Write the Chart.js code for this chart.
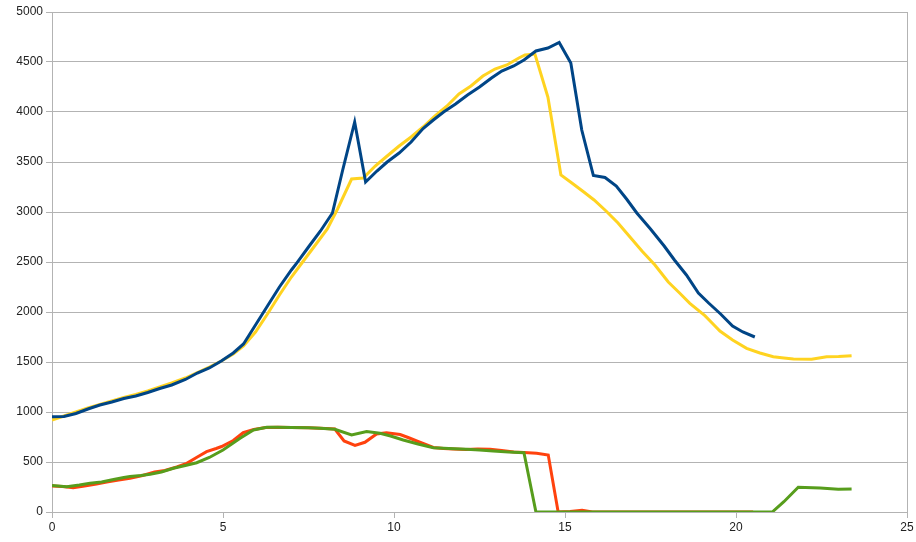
<!DOCTYPE html>
<html>
<head>
<meta charset="utf-8">
<script src="https://cdn.jsdelivr.net/npm/chart.js@4/dist/chart.umd.min.js"></script>
<style>
  html, body { margin: 0; padding: 0; background: #fff; }
  #wrap { width: 916px; height: 542px; position: relative; }
</style>
</head>
<body>
<div id="wrap"><canvas id="chart"></canvas></div>
<script>
// LibreOffice default palette
const COLORS = {
    blue: '#004586',
    orange: '#ff420e',
    yellow: '#ffd320',
    green: '#579d1c',
    grid: '#b3b3b3',
    text: '#222222',
};

// Axis ranges / ticks
const xTicks = [0, 5, 10, 15, 20, 25];
const yTicks = [0, 500, 1000, 1500, 2000, 2500, 3000, 3500, 4000, 4500, 5000];

// Series 1 (blue)
const blueX = [0, 0.35, 0.7, 1.05, 1.4, 1.75, 2.1, 2.45, 2.8, 3.15, 3.5, 3.9, 4.25, 4.6, 4.95, 5.3, 5.6,
    5.95, 6.3, 6.65, 7.0, 7.15, 7.5, 7.85, 8.2, 8.5, 8.85, 9.17, 9.5, 9.8, 10.15, 10.5, 10.85, 11.15, 11.45,
    11.8, 12.15, 12.5, 12.85, 13.15, 13.5, 13.8, 14.15, 14.5, 14.83, 15.17, 15.49, 15.83, 16.17, 16.5, 16.8,
    17.1, 17.5, 17.9, 18.2, 18.55, 18.9, 19.2, 19.55, 19.9, 20.2, 20.55];
const blueY = [953, 955, 985, 1030, 1070, 1100, 1135, 1160, 1195, 1235, 1270, 1325, 1390, 1440, 1510, 1590, 1680,
    1870, 2060, 2250, 2420, 2487, 2650, 2810, 2990, 3420, 3900, 3300, 3410, 3500, 3590, 3700, 3835, 3920, 4000,
    4080, 4170, 4250, 4340, 4410, 4460, 4520, 4610, 4640, 4695, 4490, 3820, 3365, 3345, 3260, 3130,
    2990, 2830, 2660, 2520, 2370, 2190, 2090, 1980, 1860, 1800, 1750];

// Series 2 (orange)
const orangeX = [0, 0.3, 0.62, 0.95, 1.3, 1.6, 1.95, 2.28, 2.65, 3.0, 3.3, 3.65, 3.94, 4.25, 4.52, 4.8, 4.96,
    5.3, 5.59, 5.9, 6.25, 6.6, 7.0, 7.5, 8.0, 8.27, 8.54, 8.86, 9.15, 9.49, 9.78, 10.18, 10.45, 10.7, 11.15,
    11.45, 11.73, 12.1, 12.45, 12.81, 13.15, 13.5, 13.8, 14.17, 14.51, 14.8, 15.15, 15.5, 15.8, 20.5];
const orangeY = [260, 255, 243, 260, 280, 300, 320, 337, 365, 400, 415, 450, 487, 550, 603, 635, 655,
    715, 793, 825, 845, 848, 845, 843, 835, 830, 710, 665, 697, 780, 793, 775, 740, 705, 645,
    635, 630, 625, 630, 627, 615, 600, 595, 587, 570, 0, 5, 18, 0, 0];

// Series 3 (yellow)
const yellowX = [0, 0.35, 0.7, 1.05, 1.4, 1.75, 2.1, 2.45, 2.8, 3.15, 3.5, 3.9, 4.25, 4.6, 4.95, 5.3, 5.6,
    5.95, 6.3, 6.65, 7.0, 7.35, 7.7, 8.05, 8.35, 8.76, 9.1, 9.45, 9.8, 10.15, 10.5, 10.85, 11.2, 11.55, 11.9,
    12.25, 12.6, 12.95, 13.3, 13.65, 13.83, 14.12, 14.5, 14.88, 15.2, 15.55, 15.85, 16.2, 16.55, 16.9, 17.25,
    17.63, 18.02, 18.35, 18.65, 19.09, 19.3, 19.53, 19.9, 20.31, 20.7, 21.09, 21.4, 21.68, 22.21, 22.65, 23.0, 23.38];
const yellowY = [920, 960, 1000, 1040, 1075, 1110, 1145, 1175, 1210, 1250, 1290, 1340, 1395, 1450, 1510, 1580, 1660,
    1800, 1980, 2170, 2350, 2510, 2670, 2830, 3030, 3330, 3340, 3460, 3560, 3660, 3750, 3850, 3960, 4060, 4180,
    4260, 4360, 4430, 4470, 4540, 4570, 4580, 4150, 3370, 3290, 3200, 3120, 3010, 2890, 2750, 2610,
    2470, 2300, 2190, 2087, 1963, 1890, 1810, 1720, 1637, 1590, 1553, 1540, 1530, 1527, 1553, 1555, 1563];

// Series 4 (green)
const greenX = [0, 0.43, 0.8, 1.11, 1.45, 1.8, 2.1, 2.28, 2.6, 2.87, 3.2, 3.55, 3.9, 4.23, 4.6, 5.0, 5.5, 5.89,
    6.28, 6.6, 7.0, 7.5, 7.84, 8.27, 8.76, 9.2, 9.59, 9.9, 10.27, 10.7, 11.15, 11.6, 12.12, 12.5, 12.9, 13.35,
    13.8, 14.15, 21.06, 21.4, 21.82, 22.46, 22.99, 23.38];
const greenY = [265, 253, 270, 287, 300, 325, 345, 355, 365, 377, 400, 437, 465, 493, 545, 620, 737, 820,
    847, 848, 845, 843, 837, 827, 770, 805, 787, 760, 720, 680, 643, 635, 627, 620, 610, 600,
    593, 0, 0, 103, 247, 240, 228, 230];

const toPoints = (xs, ys) => xs.map((x, i) => ({ x: x, y: ys[i] }));

function lineSet(xs, ys, color) {
    return {
        data: toPoints(xs, ys),
        borderColor: color,
        backgroundColor: color,
        borderWidth: 3,
        pointRadius: 0,
        showLine: true,
        tension: 0,
        fill: false
    };
}

const tickFont = { family: '"Liberation Sans", Arial, sans-serif', size: 12 };

// Blue drawn over yellow, green drawn over orange (index 0 is on top)
new Chart(document.getElementById('chart'), {
    type: 'scatter',
    data: {
        datasets: [
            lineSet(blueX, blueY, COLORS.blue),
            lineSet(greenX, greenY, COLORS.green),
            lineSet(yellowX, yellowY, COLORS.yellow),
            lineSet(orangeX, orangeY, COLORS.orange)
        ]
    },
    options: {
        responsive: true,
        maintainAspectRatio: false,
        animation: false,
        layout: { padding: { top: 12, right: 9, left: 0, bottom: 0 } },
        plugins: {
            legend: { display: false },
            tooltip: { enabled: false }
        },
        scales: {
            x: {
                type: 'linear',
                min: xTicks[0],
                max: xTicks[xTicks.length - 1],
                afterBuildTicks: s => { s.ticks = xTicks.map(v => ({ value: v })); },
                afterFit: s => { s.height = 30; },
                grid: {
                    color: c => (c.tick && c.tick.value === 25) ? COLORS.grid : 'rgba(0,0,0,0)',
                    tickColor: COLORS.grid,
                    tickLength: 6,
                    lineWidth: 1
                },
                border: { color: COLORS.grid, width: 1 },
                ticks: { color: COLORS.text, font: tickFont, padding: 2, maxRotation: 0, callback: v => String(v) }
            },
            y: {
                type: 'linear',
                min: yTicks[0],
                max: yTicks[yTicks.length - 1],
                afterBuildTicks: s => { s.ticks = yTicks.map(v => ({ value: v })); },
                afterFit: s => { s.width = 52; },
                grid: {
                    color: COLORS.grid,
                    tickColor: COLORS.grid,
                    tickLength: 6,
                    lineWidth: 1
                },
                border: { color: COLORS.grid, width: 1 },
                ticks: { color: COLORS.text, font: tickFont, padding: 3, callback: v => String(v) }
            }
        }
    }
});
</script>
</body>
</html>
